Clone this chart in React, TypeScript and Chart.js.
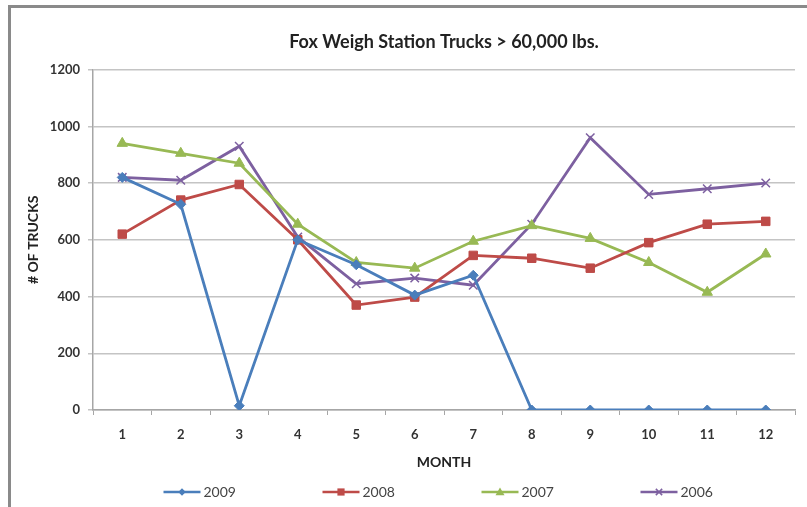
import React, { useEffect, useRef } from "react";
import { Chart, registerables } from "chart.js";

Chart.register(...registerables);

const months = ["1", "2", "3", "4", "5", "6", "7", "8", "9", "10", "11", "12"];
const seriesNames = ["2009", "2008", "2007", "2006"];
const trucks2009 = [820, 725, 15, 600, 512, 405, 475, 0, 0, 0, 0, 0];
const trucks2008 = [620, 740, 795, 600, 370, 398, 545, 535, 500, 590, 655, 665];
const trucks2007 = [940, 905, 870, 655, 520, 500, 595, 650, 605, 520, 415, 550];
const trucks2006 = [820, 810, 930, 610, 445, 465, 440, 655, 960, 760, 780, 800];
const yTicks = [0, 200, 400, 600, 800, 1000, 1200];

const colors = ["#4A7EBB", "#BE4B48", "#98B954", "#7D60A0"];
const styles = ["rectRot", "rect", "triangle", "crossRot"];
const radii = [5, 6, 6, 6];

const FONT = "Lato, 'Open Sans', sans-serif";

function drawMarker(ctx: CanvasRenderingContext2D, style: string, x: number, y: number, r: number, color: string) {
  ctx.save();
  ctx.fillStyle = color;
  ctx.strokeStyle = color;
  ctx.lineWidth = 1.5;
  ctx.beginPath();
  if (style === "rectRot") {
    ctx.moveTo(x, y - r);
    ctx.lineTo(x + r, y);
    ctx.lineTo(x, y + r);
    ctx.lineTo(x - r, y);
    ctx.closePath();
    ctx.fill();
  } else if (style === "rect") {
    ctx.rect(x - r * 0.8, y - r * 0.8, r * 1.6, r * 1.6);
    ctx.fill();
  } else if (style === "triangle") {
    ctx.moveTo(x, y - r);
    ctx.lineTo(x + r, y + r * 0.7);
    ctx.lineTo(x - r, y + r * 0.7);
    ctx.closePath();
    ctx.fill();
  } else {
    ctx.moveTo(x - r * 0.7, y - r * 0.7);
    ctx.lineTo(x + r * 0.7, y + r * 0.7);
    ctx.moveTo(x + r * 0.7, y - r * 0.7);
    ctx.lineTo(x - r * 0.7, y + r * 0.7);
    ctx.stroke();
  }
  ctx.restore();
}

const legendPlugin = {
  id: "customLegend",
  afterDraw(chart: any) {
    const ctx = chart.ctx as CanvasRenderingContext2D;
    const area = chart.chartArea;
    const cx = (area.left + area.right) / 2 - 4;
    const y = 492;
    const spacing = 159;
    chart.data.datasets.forEach((ds: any, i: number) => {
      const start = cx + (i - 1.5) * spacing - 38;
      ctx.save();
      ctx.strokeStyle = ds.borderColor;
      ctx.lineWidth = 2.5;
      ctx.beginPath();
      ctx.moveTo(start, y);
      ctx.lineTo(start + 37, y);
      ctx.stroke();
      drawMarker(ctx, ds.pointStyle, start + 18.5, y, ds.pointRadius * 0.75, ds.borderColor);
      ctx.fillStyle = "#444";
      ctx.font = `14px ${FONT}`;
      ctx.textBaseline = "middle";
      ctx.textAlign = "left";
      ctx.fillText(ds.label, start + 40, y);
      ctx.restore();
    });
  },
};

export default function App() {
  const ref = useRef<HTMLCanvasElement | null>(null);
  useEffect(() => {
    if (!ref.current) return;
    const values = [trucks2009, trucks2008, trucks2007, trucks2006];
    const chart = new Chart(ref.current, {
      type: "line",
      data: {
        labels: months,
        datasets: seriesNames.map((name, i) => ({
          label: name,
          data: values[i],
          borderColor: colors[i],
          backgroundColor: colors[i],
          pointStyle: styles[i] as any,
          pointRadius: radii[i],
          pointBorderWidth: styles[i] === "crossRot" ? 1.5 : 1,
          borderWidth: 2.8,
          tension: 0,
          fill: false,
        })),
      },
      options: {
        responsive: false,
        animation: false,
        layout: { padding: { left: 0, right: 12, top: 0, bottom: 0 } },
        plugins: {
          legend: { display: false },
          tooltip: { enabled: false },
          title: {
            display: true,
            text: "Fox Weigh Station Trucks > 60,000 lbs.",
            fullSize: false,
            color: "#222",
            font: { family: FONT, size: 18, weight: "bold" },
            padding: { top: 31, bottom: 17 },
          },
        },
        scales: {
          x: {
            offset: true,
            afterFit: (s: any) => {
              s.height = 97;
            },
            grid: {
              offset: true,
              drawOnChartArea: false,
              drawTicks: true,
              tickLength: 5,
              color: "#A6A6A6",
            },
            border: { color: "#A6A6A6", width: 1.5 },
            ticks: {
              color: "#333",
              font: { family: FONT, size: 13, weight: "bold" },
              padding: 12,
              maxRotation: 0,
            },
            title: {
              display: true,
              text: "MONTH",
              color: "#222",
              font: { family: FONT, size: 14, weight: "bold" },
              padding: { top: 0, bottom: 36 },
            },
          },
          y: {
            min: 0,
            max: 1200,
            afterFit: (s: any) => {
              s.width = 93;
            },
            afterBuildTicks: (s: any) => {
              s.ticks = yTicks.map((v) => ({ value: v }));
            },
            grid: {
              color: "#C4C4C4",
              lineWidth: 1.5,
              tickLength: 5,
            },
            border: { color: "#A6A6A6", width: 1.5 },
            ticks: {
              color: "#333",
              font: { family: FONT, size: 13, weight: "bold" },
              padding: 8,
              callback: (v: any) => String(v),
            },
            title: {
              display: true,
              text: "# OF TRUCKS",
              color: "#222",
              font: { family: FONT, size: 14, weight: "bold" },
              padding: { top: 25, bottom: 0 },
            },
          },
        },
      },
      plugins: [legendPlugin],
    });
    return () => chart.destroy();
  }, []);

  return (
    <div style={{ position: "absolute", left: 0, top: 0, width: 807, height: 507, background: "#fff", overflow: "hidden" }}>
      <canvas ref={ref} width={807} height={507} style={{ position: "absolute", left: 0, top: 0 }} />
      <div
        style={{
          position: "absolute",
          left: 8,
          top: 5,
          width: 820,
          height: 520,
          borderLeft: "3px solid #8a8a8a",
          borderTop: "3px solid #8a8a8a",
          pointerEvents: "none",
        }}
      />
    </div>
  );
}
